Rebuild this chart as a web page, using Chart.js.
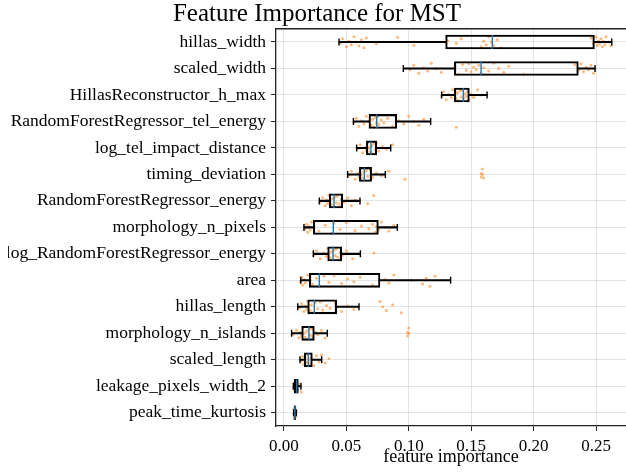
<!DOCTYPE html>
<html>
<head>
<meta charset="utf-8">
<script src="https://cdn.jsdelivr.net/npm/chart.js@4.4.0/dist/chart.umd.min.js"></script>
<style>
  html, body { margin: 0; padding: 0; background: #fff; overflow: hidden; }
</style>
</head>
<body>
<canvas id="chart" width="626" height="473"></canvas>
<script>
// one row per feature, top to bottom
const features = [
  'hillas_width', 'scaled_width', 'HillasReconstructor_h_max',
  'RandomForestRegressor_tel_energy', 'log_tel_impact_distance', 'timing_deviation',
  'RandomForestRegressor_energy', 'morphology_n_pixels', 'log_RandomForestRegressor_energy',
  'area', 'hillas_length', 'morphology_n_islands', 'scaled_length',
  'leakage_pixels_width_2', 'peak_time_kurtosis'
];

// box plot stats
const whiskerLow  = [0.0441, 0.0956, 0.1263, 0.0556, 0.0582, 0.0510, 0.0283, 0.0160, 0.0235, 0.0134, 0.0110, 0.0061, 0.0128, 0.0075, 0.0077];
const q1          = [0.1295, 0.1365, 0.1365, 0.0681, 0.0660, 0.0604, 0.0363, 0.0235, 0.0350, 0.0203, 0.0190, 0.0142, 0.0163, 0.0083, 0.0080];
const median      = [0.1669, 0.1579, 0.1437, 0.0743, 0.0697, 0.0644, 0.0401, 0.0395, 0.0393, 0.0283, 0.0243, 0.0200, 0.0195, 0.0102, 0.0088];
const q3          = [0.2487, 0.2358, 0.1485, 0.0903, 0.0743, 0.0702, 0.0470, 0.0756, 0.0462, 0.0769, 0.0422, 0.0243, 0.0227, 0.0115, 0.0094];
const whiskerHigh = [0.2626, 0.2492, 0.1627, 0.1175, 0.0855, 0.0812, 0.0609, 0.0908, 0.0612, 0.1335, 0.0601, 0.0347, 0.0302, 0.0136, 0.0099];

// individual importances (orange dots)
const samples = [
  [0.045, 0.047, 0.050, 0.052, 0.054, 0.056, 0.058, 0.060, 0.062, 0.064, 0.066, 0.074, 0.091, 0.104, 0.131, 0.138, 0.142,
   0.158, 0.160, 0.162, 0.164, 0.166, 0.168, 0.171, 0.174, 0.246, 0.248, 0.250, 0.251, 0.252, 0.253, 0.254, 0.255, 0.256, 0.257, 0.258, 0.260, 0.262],
  [0.101, 0.104, 0.108, 0.112, 0.115, 0.118, 0.122, 0.126, 0.137, 0.140, 0.143, 0.146, 0.148, 0.150, 0.152, 0.154, 0.156,
   0.158, 0.160, 0.164, 0.168, 0.172, 0.176, 0.180, 0.192, 0.233, 0.236, 0.238, 0.240, 0.242, 0.244, 0.246, 0.248],
  [0.126, 0.128, 0.130, 0.132, 0.134, 0.135, 0.137, 0.138, 0.139, 0.140, 0.141, 0.142, 0.143, 0.144, 0.145, 0.146, 0.147,
   0.148, 0.150, 0.152, 0.155, 0.158],
  [0.056, 0.058, 0.060, 0.062, 0.064, 0.066, 0.068, 0.070, 0.071, 0.072, 0.073, 0.074, 0.075, 0.076, 0.078, 0.080, 0.083,
   0.087, 0.092, 0.096, 0.100, 0.104, 0.108, 0.112, 0.138],
  [0.059, 0.061, 0.063, 0.065, 0.066, 0.067, 0.068, 0.069, 0.070, 0.071, 0.072, 0.073, 0.074, 0.076, 0.079, 0.082, 0.087],
  [0.052, 0.054, 0.057, 0.059, 0.060, 0.061, 0.062, 0.063, 0.064, 0.065, 0.066, 0.067, 0.069, 0.071, 0.074, 0.078, 0.084,
   0.097, 0.158, 0.158, 0.159, 0.159, 0.160],
  [0.029, 0.031, 0.033, 0.034, 0.035, 0.036, 0.037, 0.038, 0.039, 0.040, 0.041, 0.042, 0.043, 0.044, 0.046, 0.048, 0.051,
   0.054, 0.057, 0.067, 0.072],
  [0.017, 0.018, 0.019, 0.020, 0.021, 0.022, 0.024, 0.028, 0.033, 0.038, 0.040, 0.045, 0.050, 0.057, 0.062, 0.068, 0.071,
   0.073, 0.074, 0.076, 0.078, 0.081, 0.084, 0.088],
  [0.024, 0.026, 0.029, 0.032, 0.034, 0.035, 0.036, 0.037, 0.038, 0.039, 0.040, 0.041, 0.042, 0.043, 0.045, 0.047, 0.050,
   0.055, 0.072],
  [0.013, 0.014, 0.015, 0.016, 0.017, 0.019, 0.021, 0.023, 0.026, 0.029, 0.032, 0.036, 0.040, 0.046, 0.051, 0.056, 0.061,
   0.071, 0.081, 0.084, 0.088, 0.102, 0.111, 0.114, 0.117, 0.121],
  [0.012, 0.014, 0.016, 0.017, 0.018, 0.019, 0.020, 0.021, 0.022, 0.023, 0.025, 0.027, 0.029, 0.031, 0.034, 0.037, 0.041,
   0.046, 0.051, 0.056, 0.077, 0.079, 0.082, 0.087, 0.094],
  [0.007, 0.010, 0.012, 0.013, 0.014, 0.015, 0.016, 0.017, 0.018, 0.019, 0.020, 0.021, 0.022, 0.023, 0.025, 0.027, 0.030,
   0.033, 0.099, 0.099, 0.100, 0.100],
  [0.014, 0.015, 0.016, 0.017, 0.018, 0.019, 0.020, 0.021, 0.022, 0.024, 0.026, 0.028, 0.030, 0.033, 0.036],
  [0.0076, 0.0080, 0.0085, 0.0090, 0.0095, 0.0100, 0.0105, 0.0110, 0.0120, 0.0140],
  [0.0078, 0.0080, 0.0082, 0.0084, 0.0086, 0.0088, 0.0090, 0.0093, 0.0097]
];

// vertical scatter of the dots inside a row (in row units)
const jitter = [0.05, -0.12, 0.18, -0.03, 0.10, -0.20, 0.00, 0.14, -0.08, 0.22, -0.15, 0.07, -0.18, 0.12, -0.05];

const xTicks = [0, 0.05, 0.10, 0.15, 0.20, 0.25];

const serif = "'Liberation Serif', 'DejaVu Serif', serif";
const ink = '#222';

const topSpine = {
  id: 'topSpine',
  afterDraw(chart) {
    const { ctx, chartArea } = chart;
    ctx.save();
    ctx.strokeStyle = ink;
    ctx.lineWidth = 1.3;
    ctx.beginPath();
    ctx.moveTo(chartArea.left, chartArea.top);
    ctx.lineTo(chartArea.right, chartArea.top);
    ctx.stroke();
    ctx.restore();
  }
};

const rows = features.map((f, i) => i);

new Chart(document.getElementById('chart'), {
  type: 'bar',
  data: {
    labels: features,
    datasets: [
      { // medians
        type: 'scatter',
        indexAxis: 'x',
        yAxisID: 'yj',
        data: rows.map(i => ({ x: median[i], y: i })),
        pointStyle: 'line',
        pointRotation: 90,
        pointRadius: 7,
        pointBorderWidth: 1.4,
        pointBorderColor: '#1f77b4',
        pointBackgroundColor: '#1f77b4',
      },
      { // boxes
        indexAxis: 'y',
        yAxisID: 'y',
        grouped: false,
        data: rows.map(i => [q1[i], q3[i]]),
        barThickness: 14,
        borderWidth: 1.4,
        borderSkipped: false,
        borderColor: '#000',
        backgroundColor: 'rgba(0,0,0,0)',
      },
      { // lower whiskers
        indexAxis: 'y',
        yAxisID: 'y',
        grouped: false,
        data: rows.map(i => [whiskerLow[i], q1[i]]),
        barThickness: 1.4,
        borderWidth: 0,
        backgroundColor: '#000',
      },
      { // upper whiskers
        indexAxis: 'y',
        yAxisID: 'y',
        grouped: false,
        data: rows.map(i => [q3[i], whiskerHigh[i]]),
        barThickness: 1.4,
        borderWidth: 0,
        backgroundColor: '#000',
      },
      { // caps
        type: 'scatter',
        indexAxis: 'x',
        yAxisID: 'yj',
        data: rows.flatMap(i => [{ x: whiskerLow[i], y: i }, { x: whiskerHigh[i], y: i }]),
        pointStyle: 'line',
        pointRotation: 90,
        pointRadius: 3.5,
        pointBorderWidth: 1.4,
        pointBorderColor: '#000',
        pointBackgroundColor: '#000',
      },
      { // individual points
        type: 'scatter',
        indexAxis: 'x',
        yAxisID: 'yj',
        data: samples.flatMap((vals, i) => vals.map((v, k) => ({ x: v, y: i + jitter[k % jitter.length] }))),
        pointRadius: 1.5,
        pointBorderWidth: 0,
        pointBackgroundColor: 'rgba(255,127,14,0.55)',
      },
    ]
  },
  options: {
    indexAxis: 'y',
    responsive: false,
    animation: false,
    layout: { autoPadding: false, padding: { left: 8, top: 0, right: 0, bottom: 0 } },
    plugins: {
      legend: { display: false },
      tooltip: { enabled: false },
      title: {
        display: true,
        text: 'Feature Importance for MST',
        color: '#000',
        font: { family: serif, size: 25, weight: 'normal', lineHeight: 1.15 },
        padding: { top: 0, bottom: 0 },
      },
    },
    scales: {
      x: {
        type: 'linear',
        position: 'bottom',
        min: -0.0064,
        max: 0.274,
        offset: false,
        afterBuildTicks: s => { s.ticks = xTicks.map(v => ({ value: v })); },
        afterFit: s => { s.height = 47; s.paddingLeft = 0; s.paddingRight = 0; },
        ticks: {
          color: '#000',
          padding: 5,
          font: { family: serif, size: 17 },
          callback: v => v.toFixed(2),
        },
        grid: {
          offset: false,
          color: 'rgba(0,0,0,0.11)',
          tickColor: ink,
          tickLength: 5,
          lineWidth: 1,
        },
        border: { color: ink, width: 1.3 },
        title: {
          display: true,
          text: 'feature importance',
          color: '#000',
          font: { family: serif, size: 18 },
          padding: { top: 0, bottom: 5 },
        },
      },
      y: {
        type: 'category',
        position: 'left',
        offset: true,
        afterFit: s => { s.width = 268; },
        ticks: {
          color: '#000',
          padding: 5,
          autoSkip: false,
          font: { family: serif, size: 17.5 },
        },
        grid: {
          offset: false,
          color: 'rgba(0,0,0,0.11)',
          tickColor: ink,
          tickLength: 5,
        },
        border: { color: ink, width: 1.3 },
      },
      yj: {
        type: 'linear',
        axis: 'y',
        position: 'left',
        display: false,
        reverse: true,
        offset: false,
        grid: { offset: false },
        min: -0.5,
        max: 14.5,
      },
    },
  },
  plugins: [topSpine],
});
</script>
</body>
</html>
